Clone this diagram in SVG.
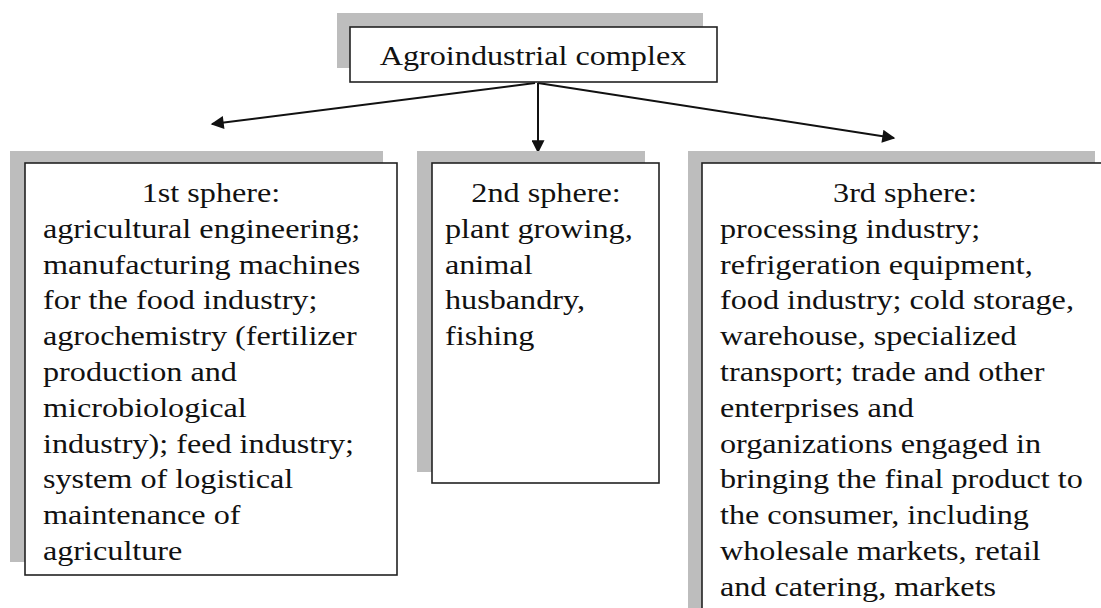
<svg xmlns="http://www.w3.org/2000/svg" width="1101" height="608" viewBox="0 0 1101 608">
  <style>
    .shadow { fill: #bdbdbd; }
    .box { fill: #ffffff; stroke: #222222; stroke-width: 1.6; }
    .txt { font-family: "Liberation Serif", "Times New Roman", serif; font-size: 28px; fill: #111111; }
    .mid { text-anchor: middle; }
    .conn { stroke: #111111; stroke-width: 2; fill: none; }
  </style>
  <defs>
    <marker id="arrow" viewBox="0 0 10 10" refX="9" refY="5" markerWidth="14" markerHeight="13" markerUnits="userSpaceOnUse" orient="auto">
      <path d="M0,0 L10,5 L0,10 z" fill="#111111"/>
    </marker>
  </defs>
  <rect width="1101" height="608" fill="#ffffff"/>

  <g id="connectors">
    <line class="conn" x1="535" y1="83" x2="212" y2="124" marker-end="url(#arrow)"/>
    <line class="conn" x1="538" y1="83" x2="538" y2="152" marker-end="url(#arrow)"/>
    <line class="conn" x1="538" y1="83" x2="894" y2="138" marker-end="url(#arrow)"/>
  </g>

  <!-- text is set slightly wide: matrix(1.15,0,0,1,-0.15*anchorX,0) -->
  <g id="node-root">
    <rect class="shadow" x="337" y="13" width="366" height="55"/>
    <rect class="box" x="350" y="27" width="367" height="55"/>
    <text class="txt mid" x="533" y="65" transform="matrix(1.15,0,0,1,-79.95,0)">Agroindustrial complex</text>
  </g>

  <g id="node-sphere1">
    <rect class="shadow" x="10" y="151" width="373" height="411"/>
    <rect class="box" x="25" y="163" width="372" height="412"/>
    <text class="txt mid" x="211" y="202" transform="matrix(1.15,0,0,1,-31.65,0)">1st sphere:</text>
    <text class="txt" transform="matrix(1.15,0,0,1,-6.45,0)">
      <tspan x="43" y="237.8">agricultural engineering;</tspan>
      <tspan x="43" y="273.6">manufacturing machines</tspan>
      <tspan x="43" y="309.4">for the food industry;</tspan>
      <tspan x="43" y="345.2">agrochemistry (fertilizer</tspan>
      <tspan x="43" y="381">production and</tspan>
      <tspan x="43" y="416.8">microbiological</tspan>
      <tspan x="43" y="452.6">industry); feed industry;</tspan>
      <tspan x="43" y="488.4">system of logistical</tspan>
      <tspan x="43" y="524.2">maintenance of</tspan>
      <tspan x="43" y="560">agriculture</tspan>
    </text>
  </g>

  <g id="node-sphere2">
    <rect class="shadow" x="417" y="151" width="228" height="321"/>
    <rect class="box" x="432" y="163" width="227" height="320"/>
    <text class="txt mid" x="546" y="202" transform="matrix(1.15,0,0,1,-81.9,0)">2nd sphere:</text>
    <text class="txt" transform="matrix(1.15,0,0,1,-66.75,0)">
      <tspan x="445" y="237.8">plant growing,</tspan>
      <tspan x="445" y="273.6">animal</tspan>
      <tspan x="445" y="309.4">husbandry,</tspan>
      <tspan x="445" y="345.2">fishing</tspan>
    </text>
  </g>

  <g id="node-sphere3">
    <rect class="shadow" x="688" y="151" width="407" height="470"/>
    <rect class="box" x="702" y="163" width="420" height="470"/>
    <text class="txt mid" x="905" y="202" transform="matrix(1.15,0,0,1,-135.75,0)">3rd sphere:</text>
    <text class="txt" transform="matrix(1.15,0,0,1,-108,0)">
      <tspan x="720" y="237.8">processing industry;</tspan>
      <tspan x="720" y="273.6">refrigeration equipment,</tspan>
      <tspan x="720" y="309.4">food industry; cold storage,</tspan>
      <tspan x="720" y="345.2">warehouse, specialized</tspan>
      <tspan x="720" y="381">transport; trade and other</tspan>
      <tspan x="720" y="416.8">enterprises and</tspan>
      <tspan x="720" y="452.6">organizations engaged in</tspan>
      <tspan x="720" y="488.4">bringing the final product to</tspan>
      <tspan x="720" y="524.2">the consumer, including</tspan>
      <tspan x="720" y="560">wholesale markets, retail</tspan>
      <tspan x="720" y="595.8">and catering, markets</tspan>
    </text>
  </g>
</svg>
